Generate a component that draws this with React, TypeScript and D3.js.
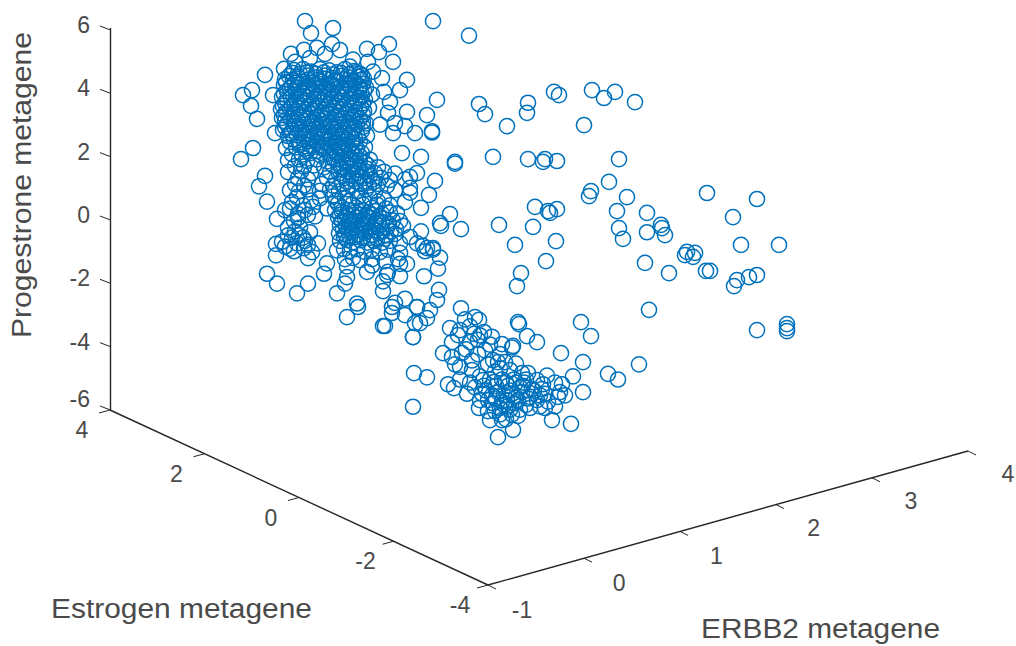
import React from "react";
import * as d3 from "d3";

// lateral = horizontal position on the viewing plane; progesterone = metagene value read against the vertical axis
type P = [number, number];

const fringePoints: P[] = [
[0.05,6.22],[0.11,5.84],[0.33,6.0],[0.32,5.49],[0.17,5.37],[0.04,5.31],[-0.09,5.18],[-0.05,4.93],[-0.16,4.71],[-0.35,4.52],[-0.48,4.04],[-0.57,3.88],[-0.49,3.54],[-0.43,3.13],[-0.27,3.88],[-0.25,2.68],[-0.47,2.21],[-0.59,1.86],
[0.89,5.49],[0.67,5.34],[0.79,5.24],[0.93,4.93],[0.53,5.0],[0.68,4.93],[0.73,4.62],[1.07,4.36],[1.0,4.04],[0.84,3.98],[0.9,3.66],[1.37,3.73],[1.27,3.25],[1.32,2.74],[1.32,2.7],[1.15,2.68],[1.07,3.35],[0.93,2.68],[0.88,3.32],[0.69,3.48],[1.02,2.05],[1.21,1.93],[1.55,1.77],[0.95,3.0],[1.05,2.9],[0.8,2.95],[0.72,3.9],[0.82,4.42],[0.62,4.5],[0.5,4.78],[0.25,5.18],[0.4,5.3],[0.1,5.05],
];

const coreCloud: P[] = [
[-0.06,4.67],[0.03,4.7],[0.11,4.62],[0.2,4.7],[0.29,4.66],[0.37,4.6],[0.45,4.7],[0.54,4.64],[0.6,4.55],
[-0.11,4.48],[-0.02,4.45],[0.07,4.5],[0.16,4.44],[0.25,4.5],[0.33,4.42],[0.42,4.49],[0.5,4.43],[0.58,4.46],[0.64,4.4],
[-0.14,4.29],[-0.05,4.27],[0.03,4.31],[0.12,4.26],[0.21,4.31],[0.3,4.25],[0.38,4.3],[0.47,4.25],[0.55,4.3],[0.63,4.24],
[-0.1,4.1],[-0.01,4.12],[0.08,4.07],[0.17,4.12],[0.26,4.08],[0.34,4.13],[0.43,4.07],[0.51,4.12],[0.59,4.08],[0.66,4.12],
[-0.16,3.92],[-0.07,3.9],[0.02,3.94],[0.1,3.89],[0.19,3.93],[0.28,3.88],[0.37,3.94],[0.45,3.89],[0.54,3.93],[0.62,3.88],
[-0.13,3.73],[-0.04,3.75],[0.05,3.71],[0.14,3.76],[0.23,3.7],[0.31,3.75],[0.4,3.7],[0.49,3.75],[0.57,3.7],[0.65,3.74],
[-0.17,3.54],[-0.08,3.52],[0.01,3.56],[0.1,3.51],[0.18,3.56],[0.27,3.5],[0.36,3.56],[0.44,3.51],[0.53,3.56],[0.61,3.52],
[-0.14,3.35],[-0.05,3.37],[0.04,3.33],[0.13,3.38],[0.22,3.32],[0.3,3.37],[0.39,3.33],[0.48,3.37],[0.56,3.33],[0.64,3.38],
[-0.18,3.16],[-0.09,3.14],[0.0,3.18],[0.08,3.13],[0.17,3.18],[0.26,3.12],[0.35,3.18],[0.43,3.13],[0.52,3.17],[0.6,3.12],
[-0.13,2.97],[-0.04,2.99],[0.05,2.95],[0.14,3.0],[0.23,2.94],[0.31,2.99],[0.4,2.95],[0.49,2.99],[0.57,2.95],[0.66,2.99],
[-0.17,2.78],[-0.08,2.76],[0.01,2.8],[0.1,2.75],[0.19,2.8],[0.28,2.74],[0.36,2.8],[0.45,2.75],[0.54,2.8],[0.62,2.76],
[-0.12,2.59],[-0.03,2.61],[0.06,2.57],[0.15,2.62],[0.24,2.56],[0.32,2.61],[0.41,2.57],[0.5,2.61],[0.58,2.57],[0.67,2.6],
[-0.1,2.4],[-0.01,2.38],[0.08,2.42],[0.17,2.37],[0.26,2.42],[0.35,2.36],[0.43,2.42],[0.52,2.37],[0.6,2.42],
[-0.14,2.21],[-0.04,2.23],[0.05,2.19],[0.13,2.24],[0.23,2.18],[0.31,2.23],[0.4,2.18],[0.48,2.23],[0.57,2.19],[0.65,2.24],
[-0.08,2.02],[0.02,2.0],[0.1,2.05],[0.2,1.99],[0.29,2.04],[0.37,1.99],[0.46,2.04],[0.55,2.0],[0.62,2.05],
[-0.12,1.83],[-0.01,1.85],[0.07,1.8],[0.17,1.85],[0.27,1.79],[0.34,1.85],[0.43,1.8],[0.52,1.85],[0.6,1.81],[0.7,1.84],
[-0.05,1.64],[0.04,1.62],[0.14,1.66],[0.24,1.6],[0.33,1.66],[0.41,1.61],[0.5,1.66],[0.59,1.61],[0.68,1.66],[0.78,1.6],
[-0.12,1.45],[0.01,1.47],[0.11,1.42],[0.3,1.46],[0.39,1.41],[0.48,1.46],[0.57,1.41],[0.66,1.46],[0.75,1.42],[0.84,1.46],[0.95,1.4],
[-0.02,1.26],[0.08,1.22],[0.27,1.26],[0.36,1.21],[0.45,1.27],[0.53,1.22],[0.63,1.26],[0.72,1.21],[0.81,1.27],[0.9,1.2],[1.05,1.22],
[-0.05,1.07],[0.04,1.03],[0.22,1.07],[0.33,1.02],[0.42,1.08],[0.51,1.02],[0.6,1.07],[0.69,1.02],[0.78,1.08],[0.87,1.02],[1.1,1.3],
[-0.1,0.88],[-0.01,0.84],[0.08,0.9],[0.2,0.86],[0.3,0.9],[0.39,0.84],[0.48,0.9],[0.57,0.84],[0.66,0.9],[0.75,0.84],[0.95,0.88],[1.1,0.8],
];

const coreInfill: P[] = [
[-0.08,4.58],[0.0,4.56],[0.07,4.6],[0.16,4.55],[0.24,4.6],[0.33,4.53],[0.41,4.58],[0.49,4.54],[0.56,4.6],
[-0.15,4.38],[-0.07,4.36],[0.0,4.4],[0.08,4.37],[0.17,4.36],[0.26,4.4],[0.35,4.34],[0.44,4.38],[0.53,4.35],[0.61,4.36],
[-0.16,4.2],[-0.08,4.18],[0.0,4.21],[0.08,4.17],[0.15,4.2],[0.24,4.18],[0.33,4.2],[0.41,4.16],[0.5,4.2],[0.6,4.16],
[-0.13,4.01],[-0.04,4.02],[0.05,3.99],[0.13,4.02],[0.22,3.98],[0.31,4.02],[0.39,3.99],[0.48,4.03],[0.56,3.99],[0.64,4.02],
[-0.18,3.82],[-0.09,3.81],[0.0,3.84],[0.08,3.8],[0.17,3.84],[0.25,3.79],[0.34,3.84],[0.42,3.8],[0.51,3.84],[0.6,3.79],
[-0.15,3.64],[-0.06,3.63],[0.03,3.65],[0.12,3.62],[0.2,3.65],[0.29,3.61],[0.38,3.65],[0.47,3.62],[0.55,3.65],[0.63,3.62],
[-0.19,3.44],[-0.1,3.45],[-0.01,3.46],[0.07,3.42],[0.16,3.47],[0.25,3.42],[0.34,3.46],[0.41,3.42],[0.5,3.46],[0.59,3.43],
[-0.16,3.25],[-0.07,3.26],[0.02,3.24],[0.11,3.27],[0.2,3.24],[0.28,3.27],[0.37,3.23],[0.46,3.27],[0.54,3.23],[0.63,3.26],
[-0.15,3.06],[-0.06,3.06],[0.03,3.08],[0.12,3.05],[0.21,3.08],[0.29,3.04],[0.38,3.08],[0.46,3.05],[0.55,3.08],[0.63,3.04],
[-0.15,2.87],[-0.06,2.88],[0.03,2.86],[0.12,2.89],[0.21,2.85],[0.3,2.89],[0.38,2.85],[0.47,2.88],[0.55,2.85],[0.63,2.88],
[-0.09,2.68],[0.0,2.69],[0.09,2.67],[0.18,2.7],[0.26,2.66],[0.35,2.7],[0.44,2.66],[0.52,2.7],
[-0.06,2.49],[0.03,2.5],[0.12,2.48],[0.21,2.5],[0.3,2.47],[0.38,2.5],[0.47,2.47],[0.55,2.5],
[0.0,2.3],[0.1,2.31],[0.2,2.28],[0.29,2.32],[0.38,2.29],[0.46,2.32],[0.55,2.29],
[0.07,2.12],[0.16,2.11],[0.26,2.13],[0.35,2.1],[0.44,2.13],[0.52,2.1],
[0.32,1.92],[0.42,1.93],[0.5,1.91],[0.6,1.95],[0.39,1.73],[0.47,1.75],[0.55,1.72],[0.65,1.74],
[0.42,1.54],[0.5,1.55],[0.58,1.52],[0.67,1.55],[0.44,1.34],[0.52,1.35],[0.6,1.32],[0.7,1.35],[0.47,1.14],[0.56,1.15],[0.65,1.14],[0.74,1.14],
];

const lowerBand: P[] = [
[-0.41,1.0],[-0.33,0.52],[-0.35,1.33],[-0.23,-0.03],[-0.15,0.25],[-0.03,0.66],[-0.06,-0.09],[-0.1,0.3],[0.03,0.4],[0.08,0.1],[-0.02,0.12],[0.11,0.55],[0.2,0.62],[0.27,0.3],
[0.33,0.68],[0.38,0.45],[0.45,0.63],[0.52,0.42],[0.58,0.65],[0.63,0.42],[0.7,0.65],[0.77,0.42],[0.84,0.62],[0.9,0.4],[0.97,0.15],[1.05,0.5],
[0.35,0.25],[0.42,0.2],[0.48,0.25],[0.55,0.18],[0.62,0.24],[0.69,0.17],[0.75,0.22],[0.82,0.13],[0.9,0.17],
[0.38,0.02],[0.45,0.0],[0.5,-0.04],[0.56,0.02],[0.63,-0.05],[0.69,0.0],[0.76,-0.08],[0.83,-0.02],[0.93,-0.08],
[0.4,-0.22],[0.46,-0.26],[0.53,-0.2],[0.59,-0.28],[0.66,-0.22],[0.72,-0.3],[0.8,-0.24],[0.87,-0.3],[0.96,-0.35],[1.03,-0.25],
[0.39,-0.48],[0.45,-0.5],[0.52,-0.44],[0.58,-0.52],[0.65,-0.46],[0.72,-0.54],[0.79,-0.48],[0.86,-0.55],[0.95,-0.5],[1.1,-0.6],[1.21,-0.42],
[0.4,-0.72],[0.47,-0.7],[0.53,-0.76],[0.6,-0.7],[0.67,-0.78],[0.74,-0.72],[0.82,-0.78],[0.9,-0.72],[1.0,-0.8],[1.17,-0.8],[1.23,-0.88],[1.27,-0.95],[1.33,-1.0],
[0.37,-1.02],[0.44,-0.98],[0.5,-1.04],[0.57,-0.98],[0.64,-1.06],[0.72,-1.0],[0.8,-1.08],[0.88,-1.0],[1.0,-1.1],[1.25,-1.05],
[0.45,-1.3],[0.53,-1.26],[0.6,-1.33],[0.72,-1.3],[0.85,-1.36],[0.98,-1.3],
[-0.24,-0.82],[-0.24,-1.18],[-0.15,-0.9],[-0.1,-0.97],[-0.03,-0.8],[0.05,-0.72],[-0.08,-0.62],[-0.01,-0.55],[0.08,-0.85],[0.12,-1.08],[-0.12,-0.3],[0.0,-0.3],[0.1,-0.45],[0.18,-0.8],
[-0.33,-1.76],[-0.23,-2.07],[-0.03,-2.38],[0.08,-2.07],[0.08,-1.27],[0.27,-1.43],[0.24,-1.76],[0.37,-2.38],[0.45,-2.07],[0.47,-1.87],[0.47,-1.53],[0.67,-1.7],[0.57,-2.7],[0.58,-2.81],[0.47,-3.13],
[0.83,-2.31],[0.83,-2.0],[0.87,-1.8],[0.83,-3.41],[0.92,-3.0],[0.95,-2.68],[1.05,-2.55],[1.17,-2.81],[1.15,-3.32],[1.2,-3.32],[1.13,-3.76],[1.27,-3.16],[1.3,-2.91],[1.37,-2.59],[1.39,-2.27],[1.24,-1.84],[1.38,-1.6],[1.0,-1.84],[1.0,-1.45],[1.07,-1.45],[0.88,-1.7],[0.72,-1.5],[1.4,-1.25],
[1.61,-0.35],[1.5,0.12],[1.4,-0.16],[1.41,-0.25],[1.21,0.32],[1.29,0.73],[1.35,1.17],[1.1,0.95],[1.17,1.42],[1.55,1.72],[1.33,-0.95],[1.0,-0.1],
[0.36,0.55],[0.42,0.33],[0.49,0.53],[0.56,0.33],[0.64,0.54],[0.72,0.32],[0.78,0.52],[0.86,0.3],
[0.4,0.1],[0.47,0.11],[0.53,0.08],[0.6,0.11],[0.66,0.08],[0.72,0.1],[0.79,0.06],
[0.42,-0.1],[0.49,-0.12],[0.55,-0.09],[0.62,-0.14],[0.68,-0.11],[0.75,-0.17],[0.82,-0.13],[0.89,-0.18],
[0.43,-0.37],[0.49,-0.36],[0.56,-0.38],[0.62,-0.36],[0.69,-0.4],[0.76,-0.38],[0.83,-0.42],[0.91,-0.42],
[0.44,-0.6],[0.5,-0.62],[0.56,-0.6],[0.63,-0.63],[0.7,-0.62],[0.77,-0.66],[0.85,-0.65],
[-0.18,-0.75],[-0.12,-0.55],[-0.05,-0.42],[0.04,-0.95],[-0.06,-1.05],[0.03,-0.62],
[-0.02,0.0],[0.05,0.25],[0.13,0.35],[0.15,0.05],[-0.08,0.5],
];

const basalCloud: P[] = [
[1.13,-5.96],[1.14,-4.9],[1.27,-5.03],[1.48,-5.25],[1.54,-5.37],[1.13,-3.76],[0.85,-3.41],[1.17,-2.81],[1.05,-3.07],[0.92,-2.81],
[1.61,-2.85],[1.75,-3.13],[1.79,-3.22],[1.5,-3.48],[1.6,-3.54],[1.8,-3.71],[1.52,-3.92],[1.43,-4.27],[1.52,-4.39],[1.62,-4.27],[1.7,-3.92],[1.78,-3.85],[2.02,-3.98],[2.13,-4.04],
[1.6,-4.7],[1.55,-4.62],[1.72,-4.8],[1.83,-5.12],[2.0,-4.75],[1.93,-4.49],[2.12,-4.09],[1.8,-5.0],[1.88,-4.62],[1.67,-5.55],[1.79,-6.0],[1.9,-6.38],[1.93,-5.85],[2.02,-5.8],[2.07,-5.75],[2.13,-6.69],[1.98,-6.92],[2.02,-6.38],[2.18,-6.25],
[2.23,-5.3],[2.37,-5.75],[2.48,-5.8],[2.6,-5.5],[2.47,-4.98],[2.62,-5.25],[2.37,-5.12],[2.52,-6.38],[2.71,-6.5],
[1.9,-5.1],[1.96,-5.3],[2.02,-5.1],[2.08,-5.3],[2.14,-5.1],[2.2,-5.35],[2.26,-5.1],[2.32,-5.4],[1.86,-5.45],[1.92,-5.6],[1.98,-5.5],[2.04,-5.6],[2.1,-5.45],[2.16,-5.65],[2.22,-5.5],[2.28,-5.7],[2.34,-5.45],[2.42,-5.4],[2.43,-5.25],
[1.75,-5.35],[1.82,-5.55],[1.88,-5.75],[1.95,-6.1],[2.0,-6.0],[2.08,-5.95],[2.14,-5.85],[2.2,-6.05],[2.26,-5.9],[2.12,-6.2],[2.06,-6.35],[2.0,-6.2],[1.88,-6.1],[1.8,-5.75],[2.3,-5.65],[2.4,-5.6],[2.45,-5.55],[2.55,-5.2],[2.58,-5.65],[2.65,-5.6],[2.4,-5.95],[2.45,-6.0],[2.55,-5.95],[2.3,-6.0],
[2.0,-4.3],[1.95,-4.85],[2.1,-4.8],[2.16,-4.6],[2.22,-4.9],[1.72,-4.5],[1.66,-4.15],[1.78,-4.3],[1.85,-4.18],[1.92,-3.75],[1.84,-3.6],[2.05,-4.55],[2.28,-4.9],[1.6,-5.1],[1.7,-5.2],
[1.65,-3.2],[1.7,-3.42],[1.58,-3.7],[1.74,-3.66],[1.9,-4.0],[1.98,-4.55],[2.06,-5.2],[2.16,-5.2],[2.24,-5.2],[1.94,-5.18],[1.84,-5.3],[2.12,-5.55],[2.18,-5.75],[2.04,-5.9],[1.96,-5.7],[2.1,-6.05],
];

const rightCloud: P[] = [
[1.33,6.22],[1.69,5.76],[1.79,3.6],[1.85,3.28],[2.28,3.64],[2.27,3.32],[2.07,2.9],[2.54,3.98],[2.59,3.88],[2.92,4.04],[3.15,3.98],[3.04,3.79],[3.35,3.66],[2.84,2.93],
[1.93,1.93],[2.28,1.86],[2.45,1.86],[2.43,1.77],[2.57,1.8],[3.19,1.86],[3.09,1.14],[2.91,0.85],[2.89,0.69],[3.27,0.66],[4.07,0.79],[4.57,0.6],[4.33,0.03],
[2.35,0.35],[2.57,0.28],[2.48,0.22],[2.5,0.16],[3.17,0.22],[3.47,0.16],[3.61,-0.22],[3.62,-0.32],[3.47,-0.45],[3.65,-0.54],[3.19,-0.32],[3.23,-0.66],
[1.99,-0.22],[2.33,-0.28],[2.15,-0.85],[2.56,-0.73],[2.46,-1.36],[2.21,-1.74],[2.17,-2.15],
[4.41,-0.85],[4.79,-0.85],[3.87,-1.07],[3.85,-1.17],[3.95,-1.1],[3.93,-1.23],[3.45,-1.42],[3.69,-1.74],[4.06,-1.67],[4.1,-1.67],[4.37,-1.96],[4.34,-2.15],[4.49,-1.87],[4.57,-1.8],
[3.49,-2.9],[4.57,-3.54],[4.87,-3.35],[4.87,-3.48],[4.87,-3.57],[2.81,-3.29],[2.91,-3.73],
[2.18,-3.29],[2.19,-3.35],[2.27,-3.73],[2.37,-3.92],[2.61,-4.27],[2.83,-4.55],[3.08,-4.92],[3.18,-5.1],[3.39,-4.62],[2.73,-5.0],[2.83,-5.5],
];

const clouds: P[][] = [fringePoints, coreCloud, coreInfill, lowerBand, basalCloud, rightCloud];

const zTicks = [-6, -4, -2, 0, 2, 4, 6];
const estrogenTicks = [4, 2, 0, -2, -4];
const erbb2Ticks = [-1, 0, 1, 2, 3, 4];

const BLUE = "#0072BD";
const AXIS = "#262626";
const TEXT = "#4a4a4a";
const fontFamily = "'Liberation Sans', Arial, sans-serif";

const lateralScale = d3.scaleLinear().domain([0, 1]).range([300, 400]);
const zScale = d3.scaleLinear().domain([-6, 6]).range([408, 28]);
const estX = d3.scaleLinear().domain([4, -4]).range([110, 488]);
const estY = d3.scaleLinear().domain([4, -4]).range([410, 585]);
const erbX = d3.scaleLinear().domain([-1, 4]).range([488, 968]);
const erbY = d3.scaleLinear().domain([-1, 4]).range([585, 451]);
const erbLabelX = d3.scaleLinear().domain([-1, 4]).range([522, 1008]);
const erbLabelY = d3.scaleLinear().domain([-1, 4]).range([612, 476]);

export default function App() {
  const allPoints = clouds.flat();
  return (
    <svg width={1016} height={646} viewBox="0 0 1016 646" style={{ position: "absolute", left: 0, top: 0, background: "#fff" }} fontFamily={fontFamily}>
      <g fill="none" stroke={BLUE} strokeWidth={1.5}>
        {allPoints.map((p, i) => (
          <circle key={i} cx={lateralScale(p[0])} cy={zScale(p[1])} r={7.6} />
        ))}
      </g>
      <g stroke={AXIS} strokeWidth={1.4} fill="none">
        <line x1={110.5} y1={zScale(6)} x2={110.5} y2={410} />
        <line x1={estX(4)} y1={estY(4)} x2={estX(-4)} y2={estY(-4)} />
        <line x1={erbX(-1)} y1={erbY(-1)} x2={erbX(4)} y2={erbY(4)} />
        {zTicks.map((t) => (
          <line key={t} x1={110.5} y1={zScale(t) + 2} x2={100} y2={zScale(t) - 2} strokeWidth={1} />
        ))}
        {estrogenTicks.map((t) => (
          <line key={t} x1={estX(t)} y1={estY(t)} x2={estX(t) - 11} y2={estY(t) + 3} strokeWidth={1} />
        ))}
        {erbb2Ticks.map((t) => (
          <line key={t} x1={erbX(t)} y1={erbY(t)} x2={erbX(t) + 8} y2={erbY(t) + 4} strokeWidth={1} />
        ))}
      </g>
      <g fill={TEXT} fontSize={23}>
        {zTicks.map((t) => (
          <text key={t} x={90} y={zScale(t) - (t === -6 ? 7 : 1)} textAnchor="end" dominantBaseline="middle">{t}</text>
        ))}
        {estrogenTicks.map((t) => (
          <text key={t} x={estX(t) - 28} y={estY(t) + 22} textAnchor="middle" dominantBaseline="middle">{t}</text>
        ))}
        {erbb2Ticks.map((t) => (
          <text key={t} x={erbLabelX(t)} y={erbLabelY(t)} textAnchor="middle" dominantBaseline="middle">{t}</text>
        ))}
      </g>
      <g fill={TEXT} fontSize={27}>
        <text x={51} y={611} dominantBaseline="middle" textLength={261} lengthAdjust="spacingAndGlyphs">Estrogen metagene</text>
        <text x={701} y={631} dominantBaseline="middle" textLength={239} lengthAdjust="spacingAndGlyphs">ERBB2 metagene</text>
        <text transform="translate(24,338) rotate(-90)" dominantBaseline="middle" textLength={306} lengthAdjust="spacingAndGlyphs">Progestrone metagene</text>
      </g>
    </svg>
  );
}
